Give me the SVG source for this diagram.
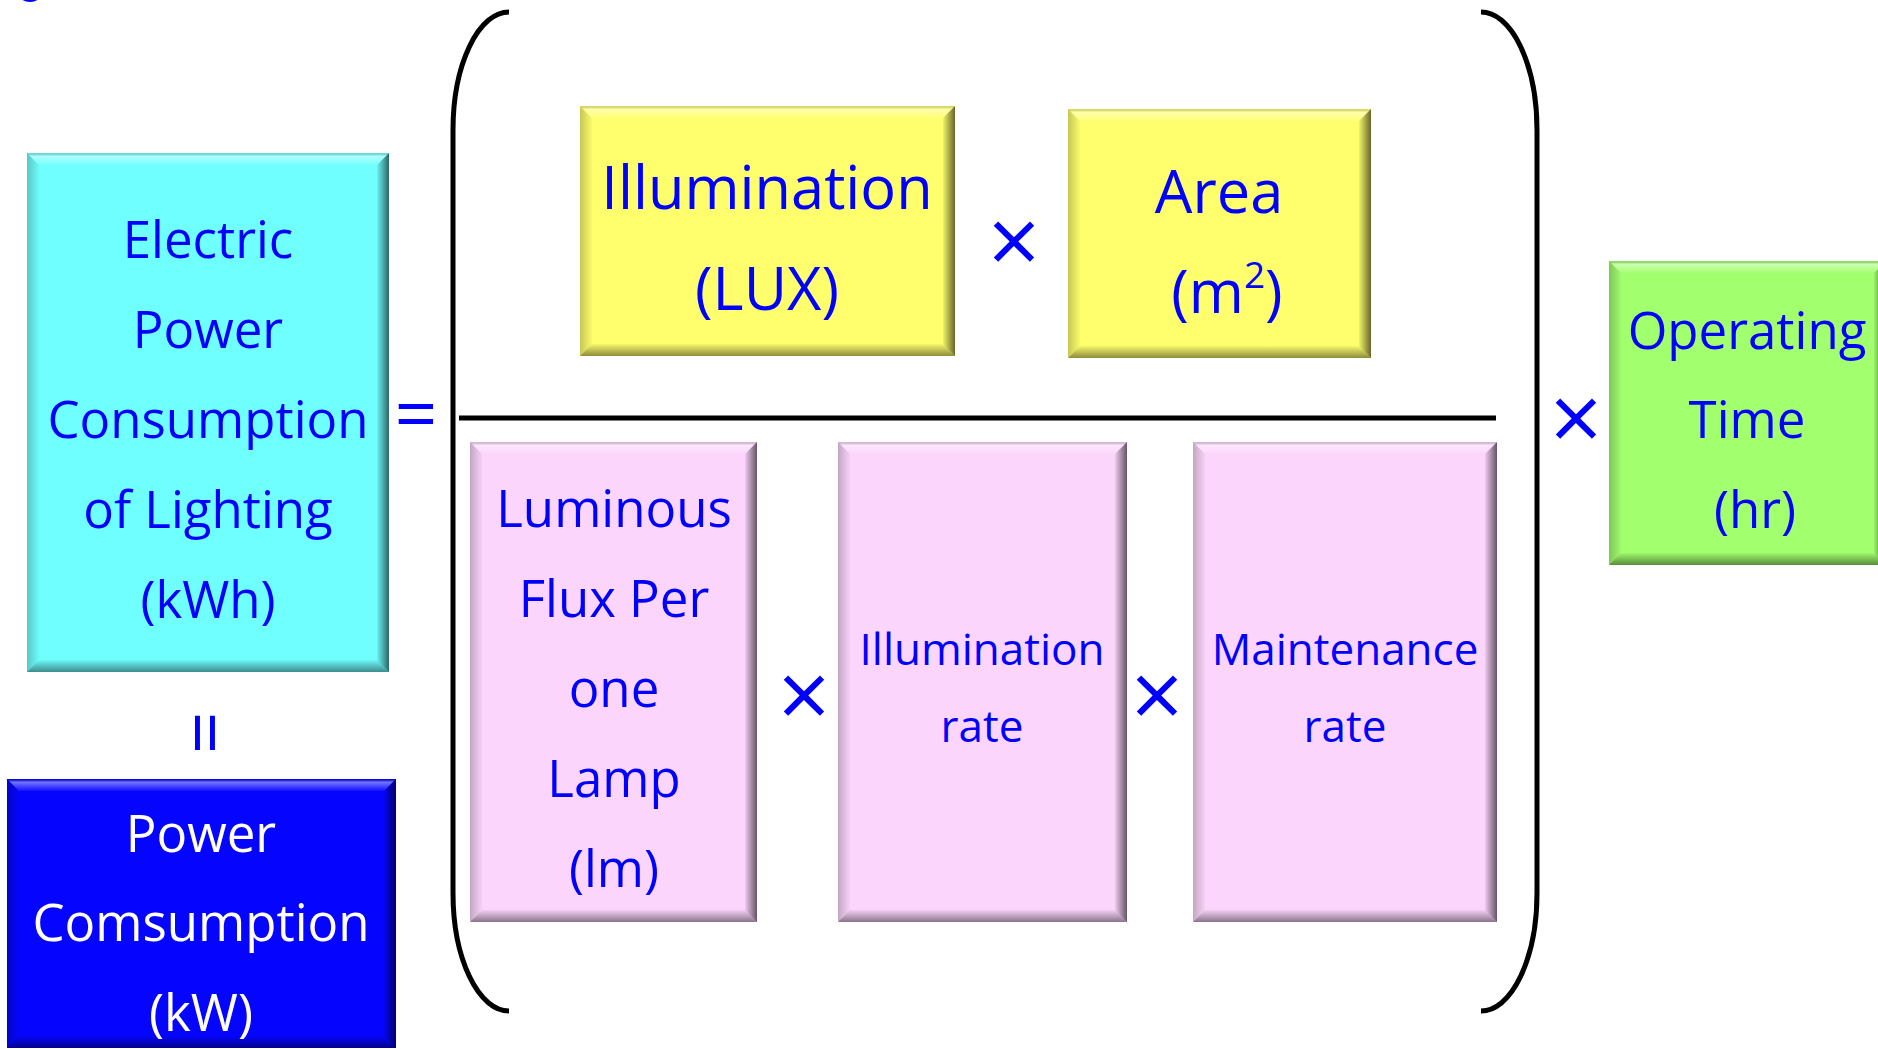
<svg xmlns="http://www.w3.org/2000/svg" width="1878" height="1049" viewBox="0 0 1878 1049">
<defs>
<linearGradient id="gTop" x1="0" y1="0" x2="0" y2="1"><stop offset="0" stop-color="#000" stop-opacity="0.12"/><stop offset="0.25" stop-color="#fff" stop-opacity="0.45"/><stop offset="1" stop-color="#fff" stop-opacity="0.05"/></linearGradient>
<linearGradient id="gBot" x1="0" y1="0" x2="0" y2="1"><stop offset="0" stop-color="#000" stop-opacity="0.03"/><stop offset="1" stop-color="#000" stop-opacity="0.45"/></linearGradient>
<linearGradient id="gLeft" x1="0" y1="0" x2="1" y2="0"><stop offset="0" stop-color="#000" stop-opacity="0.22"/><stop offset="1" stop-color="#000" stop-opacity="0.02"/></linearGradient>
<linearGradient id="gRight" x1="0" y1="0" x2="1" y2="0"><stop offset="0" stop-color="#000" stop-opacity="0.05"/><stop offset="1" stop-color="#000" stop-opacity="0.6"/></linearGradient>
</defs>
<style>
.t{font-family:"Open Sans","Noto Sans","Liberation Sans",sans-serif;text-anchor:middle;fill:#0000FF}
.w{fill:#FFFFFF}
.s50{font-size:51px}
.s57{font-size:59.5px}
.s43{font-size:44px}
.op{font-family:"Open Sans","Noto Sans","Liberation Sans",sans-serif;text-anchor:middle;fill:#0000FF}
.bt{fill:url(#gTop)}
.bb{fill:url(#gBot)}
.bl{fill:url(#gLeft)}
.br{fill:url(#gRight)}
.ln{fill:none;stroke:#000;stroke-width:5}
</style>
<rect width="1878" height="1049" fill="#FFFFFF"/>
<ellipse cx="30" cy="-9" rx="13" ry="11" fill="#0000FF"/>

<g id="formula-lines">
<path class="ln" d="M 509 12 A 56 118 0 0 0 453 130 L 453 893 A 56 118 0 0 0 509 1011"/>
<path class="ln" d="M 1481 12 A 56 118 0 0 1 1537 130 L 1537 893 A 56 118 0 0 1 1481 1011"/>
<line class="ln" x1="459" y1="418" x2="1496" y2="418"/>
</g>

<g id="operators">
<text class="op" x="416" y="441" font-size="75">=</text>
<text class="op" font-size="75" transform="translate(205,733) rotate(90)" x="0" y="27">=</text>
<text class="op" x="1014" y="274" font-size="92">×</text>
<text class="op" x="804" y="728" font-size="92">×</text>
<text class="op" x="1157" y="728" font-size="92">×</text>
<text class="op" x="1576" y="451" font-size="92">×</text>
</g>

<g id="electric-power-consumption">
<rect x="27" y="153" width="362" height="519" fill="#70FFFF"/>
<polygon class="bt" points="27,153 389,153 377,165 39,165"/>
<polygon class="bb" points="27,672 389,672 377,660 39,660"/>
<polygon class="bl" points="27,153 39,165 39,660 27,672"/>
<polygon class="br" points="389,153 377,165 377,660 389,672"/>
<text class="t s50" x="208" y="258">Electric</text>
<text class="t s50" x="208" y="348">Power</text>
<text class="t s50" x="208" y="438">Consumption</text>
<text class="t s50" x="208" y="528">of Lighting</text>
<text class="t s50" x="208" y="618">(kWh)</text>
</g>

<g id="power-consumption">
<rect x="7" y="779" width="389" height="269" fill="#0505FF"/>
<polygon class="bt" points="7,779 396,779 384,791 19,791"/>
<polygon class="bb" points="7,1048 396,1048 384,1036 19,1036"/>
<polygon class="bl" points="7,779 19,791 19,1036 7,1048"/>
<polygon class="br" points="396,779 384,791 384,1036 396,1048"/>
<text class="t w s50" x="201" y="852">Power</text>
<text class="t w s50" x="201" y="941">Comsumption</text>
<text class="t w s50" x="201" y="1031">(kW)</text>
</g>

<g id="illumination-lux">
<rect x="580" y="106" width="375" height="250" fill="#FFFF6E"/>
<polygon class="bt" points="580,106 955,106 943,118 592,118"/>
<polygon class="bb" points="580,356 955,356 943,344 592,344"/>
<polygon class="bl" points="580,106 592,118 592,344 580,356"/>
<polygon class="br" points="955,106 943,118 943,344 955,356"/>
<text class="t s57" x="767" y="209">Illumination</text>
<text class="t s57" x="767" y="310">(LUX)</text>
</g>

<g id="area">
<rect x="1068" y="109" width="303" height="249" fill="#FFFF6E"/>
<polygon class="bt" points="1068,109 1371,109 1359,121 1080,121"/>
<polygon class="bb" points="1068,358 1371,358 1359,346 1080,346"/>
<polygon class="bl" points="1068,109 1080,121 1080,346 1068,358"/>
<polygon class="br" points="1371,109 1359,121 1359,346 1371,358"/>
<text class="t s57" x="1219" y="213">Area</text>
<text class="t s57" x="1227" y="313">(m<tspan font-size="37" dy="-25">2</tspan><tspan dy="25">)</tspan></text>
</g>

<g id="luminous-flux">
<rect x="470" y="442" width="287" height="480" fill="#FBD5FB"/>
<polygon class="bt" points="470,442 757,442 745,454 482,454"/>
<polygon class="bb" points="470,922 757,922 745,910 482,910"/>
<polygon class="bl" points="470,442 482,454 482,910 470,922"/>
<polygon class="br" points="757,442 745,454 745,910 757,922"/>
<text class="t s50" x="614" y="527">Luminous</text>
<text class="t s50" x="614" y="617">Flux Per</text>
<text class="t s50" x="614" y="707">one</text>
<text class="t s50" x="614" y="797">Lamp</text>
<text class="t s50" x="614" y="887">(lm)</text>
</g>

<g id="illumination-rate">
<rect x="838" y="442" width="289" height="480" fill="#FBD5FB"/>
<polygon class="bt" points="838,442 1127,442 1115,454 850,454"/>
<polygon class="bb" points="838,922 1127,922 1115,910 850,910"/>
<polygon class="bl" points="838,442 850,454 850,910 838,922"/>
<polygon class="br" points="1127,442 1115,454 1115,910 1127,922"/>
<text class="t s43" x="982" y="665">Illumination</text>
<text class="t s43" x="982" y="742">rate</text>
</g>

<g id="maintenance-rate">
<rect x="1193" y="442" width="304" height="480" fill="#FBD5FB"/>
<polygon class="bt" points="1193,442 1497,442 1485,454 1205,454"/>
<polygon class="bb" points="1193,922 1497,922 1485,910 1205,910"/>
<polygon class="bl" points="1193,442 1205,454 1205,910 1193,922"/>
<polygon class="br" points="1497,442 1485,454 1485,910 1497,922"/>
<text class="t s43" x="1345" y="665">Maintenance</text>
<text class="t s43" x="1345" y="742">rate</text>
</g>

<g id="operating-time">
<rect x="1609" y="261" width="277" height="304" fill="#A2FF6E"/>
<polygon class="bt" points="1609,261 1886,261 1874,273 1621,273"/>
<polygon class="bb" points="1609,565 1886,565 1874,553 1621,553"/>
<polygon class="bl" points="1609,261 1621,273 1621,553 1609,565"/>
<polygon class="br" points="1886,261 1874,273 1874,553 1886,565"/>
<text class="t s50" x="1747" y="349">Operating</text>
<text class="t s50" x="1747" y="438">Time</text>
<text class="t s50" x="1755" y="528">(hr)</text>
</g>
</svg>
